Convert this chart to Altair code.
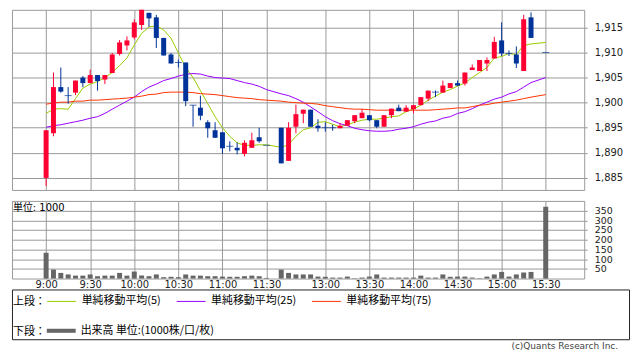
import altair as alt
import pandas as pd

# ---------------- data ----------------
TIMES = [
    "9:00", "9:05", "9:10", "9:15", "9:20", "9:25", "9:30", "9:35", "9:40", "9:45",
    "9:50", "9:55", "10:00", "10:05", "10:10", "10:15", "10:20", "10:25", "10:30", "10:35",
    "10:40", "10:45", "10:50", "10:55", "11:00", "11:05", "11:10", "11:15", "11:20", "11:25",
    "11:30",
    "12:30", "12:35", "12:40", "12:45", "12:50", "12:55", "13:00", "13:05", "13:10", "13:15",
    "13:20", "13:25", "13:30", "13:35", "13:40", "13:45", "13:50", "13:55", "14:00", "14:05",
    "14:10", "14:15", "14:20", "14:25", "14:30", "14:35", "14:40", "14:45", "14:50", "14:55",
    "15:00", "15:05", "15:10", "15:15", "15:20",
    "15:30",
]
OPEN = [
    1885.0, 1893.9, 1903.1, 1901.4, 1902.0, 1905.0, 1903.9, 1905.5, 1904.6, 1905.9,
    1909.7, 1911.4, 1913.0, 1915.5, 1917.9, 1917.0, 1912.9, 1909.6, 1908.0, 1908.0,
    1899.5, 1899.0, 1896.1, 1894.5, 1894.1, 1891.3, 1891.0, 1889.8, 1891.0, 1893.1,
    1891.5,
    1895.0, 1888.4, 1895.2, 1897.8, 1898.6, 1895.4, 1895.0, 1895.0, 1894.9, 1895.4,
    1896.3, 1896.9, 1897.5, 1896.5, 1895.2, 1897.5, 1899.0, 1898.2, 1898.7, 1899.5,
    1900.8, 1902.1, 1902.0, 1902.9, 1903.9, 1903.8, 1906.5, 1906.3, 1907.8, 1908.8,
    1912.4, 1909.8, 1909.6, 1906.3, 1917.0,
    1910.0,
]
HIGH = [
    1894.5, 1906.0, 1907.0, 1903.1, 1904.4, 1905.3, 1906.6, 1905.5, 1905.5, 1909.9,
    1912.5, 1913.2, 1916.6, 1918.5, 1917.9, 1917.5, 1912.9, 1909.9, 1908.6, 1908.0,
    1899.5, 1901.4, 1896.5, 1896.1, 1894.1, 1892.3, 1892.1, 1892.5, 1894.0, 1895.0,
    1891.5,
    1895.0, 1896.1, 1899.6, 1898.6, 1898.6, 1896.7, 1896.1, 1895.6, 1895.9, 1896.5,
    1897.5, 1898.7, 1897.5, 1896.5, 1897.5, 1898.8, 1899.6, 1899.5, 1899.5, 1901.1,
    1902.4, 1902.4, 1904.4, 1903.9, 1904.4, 1906.0, 1907.6, 1908.5, 1909.0, 1913.1,
    1916.0, 1910.4, 1911.2, 1917.5, 1918.0,
    1910.0,
]
LOW = [
    1883.4, 1893.3, 1902.0, 1899.8, 1901.5, 1903.1, 1903.9, 1902.4, 1903.7, 1905.9,
    1909.4, 1910.4, 1912.6, 1914.5, 1915.1, 1910.9, 1909.4, 1907.8, 1907.0, 1899.3,
    1895.2, 1896.5, 1893.0, 1893.0, 1889.8, 1890.3, 1889.7, 1889.3, 1891.0, 1892.0,
    1891.5,
    1887.9, 1888.4, 1893.9, 1895.9, 1895.2, 1894.2, 1894.2, 1894.4, 1894.9, 1895.4,
    1895.9, 1896.9, 1896.3, 1894.9, 1895.2, 1896.9, 1898.3, 1898.2, 1897.9, 1899.5,
    1900.3, 1901.1, 1902.0, 1902.9, 1903.3, 1903.4, 1906.5, 1906.3, 1906.3, 1908.8,
    1909.3, 1909.3, 1906.9, 1906.3, 1912.9,
    1910.0,
]
CLOSE = [
    1894.5, 1903.1, 1902.2, 1901.4, 1904.4, 1903.9, 1905.5, 1904.3, 1905.5, 1909.6,
    1912.0, 1912.4, 1916.0, 1918.5, 1916.8, 1912.9, 1909.4, 1907.8, 1908.0, 1900.3,
    1899.5, 1897.4, 1894.9, 1893.0, 1890.9, 1891.3, 1890.5, 1892.0, 1892.5, 1892.3,
    1891.5,
    1887.9, 1895.0, 1897.7, 1898.6, 1895.2, 1894.9, 1895.0, 1895.0, 1895.4, 1896.5,
    1897.5, 1898.0, 1896.5, 1895.2, 1897.5, 1898.8, 1898.3, 1899.0, 1899.5, 1901.1,
    1902.4, 1902.1, 1903.4, 1903.9, 1903.4, 1906.0, 1907.0, 1908.5, 1908.5, 1912.1,
    1909.8, 1909.8, 1907.8, 1916.6, 1912.9,
    1910.0,
]
VOLUME = [
    133, 46, 29, 21, 15, 15, 21, 12, 15, 15,
    29, 15, 36, 15, 12, 21, 7, 9, 7, 21,
    15, 15, 12, 12, 10, 9, 9, 12, 15, 12,
    3,
    46, 29, 21, 21, 21, 10, 9, 5, 5, 10,
    2, 5, 10, 21, 5, 5, 5, 5, 5, 15,
    5, 5, 21, 9, 10, 10, 5, 2, 10, 21,
    34, 10, 21, 31, 34,
    370,
]
MA5 = [
    1897.85, 1898.7, 1898.8, 1898.7, 1900.8, 1902.9, 1903.7, 1904.2, 1905.0, 1906.0,
    1907.4, 1908.9, 1911.5, 1913.8, 1915.1, 1915.3, 1914.5, 1912.85, 1909.9, 1907.0,
    1905.0, 1902.4, 1899.8, 1897.2, 1895.0, 1893.3, 1892.0, 1891.5, 1891.5, 1891.6,
    1891.6,
    1891.1, 1891.6, 1893.3, 1894.6, 1895.0, 1896.1, 1896.2, 1895.7, 1895.2, 1895.6,
    1896.1, 1896.5, 1896.7, 1896.7, 1896.9, 1897.2, 1897.35, 1898.2, 1898.7, 1899.5,
    1900.5, 1901.3, 1902.1, 1902.6, 1903.3, 1903.9, 1905.0, 1906.0, 1907.0, 1908.9,
    1909.2, 1909.8, 1909.6, 1911.4, 1911.7,
    1912.0,
]
MA25 = [
    1895.1, 1895.4, 1895.6, 1895.9, 1896.2, 1896.5, 1896.9, 1897.2, 1897.85, 1898.7,
    1899.5, 1900.3, 1901.1, 1902.2, 1903.1, 1903.7, 1904.4, 1904.8, 1905.3, 1905.65,
    1905.8, 1905.7, 1905.3, 1905.0, 1904.9, 1904.8, 1904.4, 1904.0, 1903.7, 1903.25,
    1902.6,
    1901.75, 1901.4, 1900.8, 1900.1, 1899.15, 1898.2, 1897.2, 1896.4, 1895.8, 1895.4,
    1894.9, 1894.6, 1894.4, 1894.3, 1894.3, 1894.4, 1894.7, 1894.9, 1895.2, 1895.7,
    1896.1, 1896.35, 1896.9, 1897.2, 1897.85, 1898.2, 1898.8, 1899.5, 1900.1, 1900.7,
    1901.1, 1901.75, 1902.2, 1903.1, 1904.0,
    1905.0,
]
MA75 = [
    1899.7, 1899.9, 1900.1, 1900.1, 1900.3, 1900.3, 1900.5, 1900.5, 1900.6, 1900.7,
    1900.8, 1900.9, 1901.1, 1901.3, 1901.6, 1901.7, 1902.0, 1902.1, 1902.1, 1902.1,
    1902.0, 1901.8, 1901.7, 1901.6, 1901.4, 1901.2, 1901.0, 1900.9, 1900.8, 1900.6,
    1900.5,
    1900.3, 1900.1, 1900.0, 1899.9, 1899.85, 1899.7, 1899.4, 1899.2, 1899.0, 1898.8,
    1898.7, 1898.7, 1898.6, 1898.5, 1898.5, 1898.5, 1898.5, 1898.5, 1898.5, 1898.5,
    1898.5, 1898.6, 1898.7, 1898.8, 1898.95, 1898.95, 1899.2, 1899.5, 1899.6, 1899.9,
    1900.1, 1900.3, 1900.5, 1900.8, 1901.1,
    1901.6,
]
MA_NAMES = ["単純移動平均(5)", "単純移動平均(25)", "単純移動平均(75)"]
MA_COLORS = ["#99cc00", "#9900ff", "#ff3300"]
VOL_NAME = "出来高 単位:(1000株/口/枚)"
TICK_TIMES = ["9:00", "9:30", "10:00", "10:30", "11:00", "11:30",
              "13:00", "13:30", "14:00", "14:30", "15:00", "15:30"]
PRICE_TICKS = [1885, 1890, 1895, 1900, 1905, 1910, 1915]
VOL_TICKS = [50, 100, 150, 200, 250, 300, 350]
UNIT_TEXT = "単位: 1000"
COPYRIGHT = "(c)Quants Research Inc."

RED = "#ff0033"
BLUE = "#003399"
GRID = "#999999"
CJK = "Noto Sans CJK JP"
LAT = "DejaVu Sans"


def slot(t):
    """5-minute slot index on the broken intraday axis (one empty slot for lunch)."""
    h, m = map(int, t.split(":"))
    mins = h * 60 + m
    if mins <= 11 * 60 + 30:
        return (mins - 9 * 60) // 5
    return (mins - (12 * 60 + 30)) // 5 + 32


bars = pd.DataFrame({"t": TIMES, "o": OPEN, "h": HIGH, "l": LOW, "c": CLOSE, "v": VOLUME})
bars["slot"] = [slot(t) for t in TIMES]
bars["vname"] = VOL_NAME

ma = pd.concat(
    [pd.DataFrame({"slot": bars["slot"], "series": n, "value": vals})
     for n, vals in zip(MA_NAMES, [MA5, MA25, MA75])],
    ignore_index=True,
)

TICK_SLOTS = [slot(t) for t in TICK_TIMES]
label_expr = ("[" + ",".join("'%s'" % t for t in TICK_TIMES) + "][indexof(["
              + ",".join(str(s) for s in TICK_SLOTS) + "], datum.value)]")

W = 575
MAIN_H = 181
VOL_H = 78
xs = alt.Scale(domain=[-4.646, 73.24], nice=False, zero=False, padding=0)
x_main = alt.X("slot:Q", scale=xs,
               axis=alt.Axis(values=TICK_SLOTS, grid=True, labels=False, ticks=False,
                             domain=False, title=None))
ys = alt.Scale(domain=[1882.6, 1918.5], nice=False, zero=False, padding=0)
y_axis = alt.Axis(orient="right", values=PRICE_TICKS, format=",", grid=True, domain=False,
                  tickSize=3, labelPadding=7, title=None, labelFontSize=10)

updown = alt.condition("datum.c > datum.o", alt.value(RED), alt.value(BLUE))

legend_common = dict(
    orient="none", legendX=1, direction="horizontal",
    titleOrient="left", titleAnchor="middle", titleBaseline="top",
    titleFont=CJK, titleFontSize=11, titleFontWeight="normal", titleColor="#000",
    titlePadding=1, symbolSize=841,
    labelFont=CJK, labelFontSize=11, labelColor="#000", labelOffset=5, padding=0,
)
ma_legend = alt.Legend(
    legendY=278, title="上段：", symbolType="stroke", symbolStrokeWidth=1,
    columnPadding=13, **legend_common,
)
vol_legend = alt.Legend(
    legendY=308, title="下段：", symbolType="M-1,-0.14H1V0.14H-1Z", symbolStrokeWidth=0,
    **legend_common,
)

lines = alt.Chart(ma).mark_line(strokeWidth=1).encode(
    x=x_main,
    y=alt.Y("value:Q", scale=ys, axis=y_axis),
    color=alt.Color("series:N", scale=alt.Scale(domain=MA_NAMES, range=MA_COLORS),
                    legend=ma_legend),
)
base = alt.Chart(bars)
wicks = base.mark_rule(strokeWidth=1).encode(
    x=x_main, y=alt.Y("l:Q", scale=ys, axis=y_axis), y2="h:Q", color=updown)
bodies = base.mark_bar(size=5).encode(
    x=x_main, y=alt.Y("o:Q", scale=ys, axis=y_axis), y2="c:Q", color=updown)
doji = base.transform_filter("datum.o == datum.c").mark_tick(
    orient="horizontal", size=7, thickness=1, color=BLUE).encode(
    x=x_main, y=alt.Y("o:Q", scale=ys, axis=y_axis))

main = alt.layer(lines, wicks, bodies, doji).properties(width=W, height=MAIN_H)

vol = base.mark_bar(size=5).encode(
    x=alt.X("slot:Q", scale=xs,
            axis=alt.Axis(values=TICK_SLOTS, labelExpr=label_expr, grid=True, ticks=False,
                          tickSize=0, domain=False, labelPadding=1, title=None,
                          labelFontSize=10)),
    y=alt.Y("v:Q", scale=alt.Scale(domain=[0, 400], nice=False, padding=0),
            axis=alt.Axis(orient="right", values=VOL_TICKS, grid=True, domain=False,
                          tickSize=3, labelPadding=7, title=None, labelFontSize=9.5)),
    fill=alt.Fill("vname:N", scale=alt.Scale(domain=[VOL_NAME], range=["#666666"]),
                  legend=vol_legend),
).properties(
    width=W, height=VOL_H,
    title=alt.TitleParams(UNIT_TEXT, anchor="start", orient="top", offset=-12, dx=1,
                          fontSize=10, fontWeight="normal", font=LAT + ", " + CJK,
                          color="#000", frame="group"),
)

legend_panel = alt.Chart(pd.DataFrame({"k": [0]})).mark_point(opacity=0).encode(
    x=alt.value(0), y=alt.value(0)
).properties(
    width=620, height=50,
    view=alt.ViewBackground(stroke="#222222", strokeWidth=1),
    title=alt.TitleParams(COPYRIGHT, orient="bottom", anchor="end", offset=3, dx=-11,
                          fontSize=9, fontWeight="normal", font=LAT, color="#444444",
                          frame="group"),
)

chart = alt.vconcat(main, vol, legend_panel, spacing=11, bounds="flush").properties(
    padding=0
).configure_view(stroke=GRID, strokeWidth=1).configure_axis(
    gridColor=GRID, gridWidth=1, tickColor=GRID, labelColor="#222222", labelFont=LAT,
)

chart.save("out.html", embed_options={"renderer": "svg", "actions": False})
